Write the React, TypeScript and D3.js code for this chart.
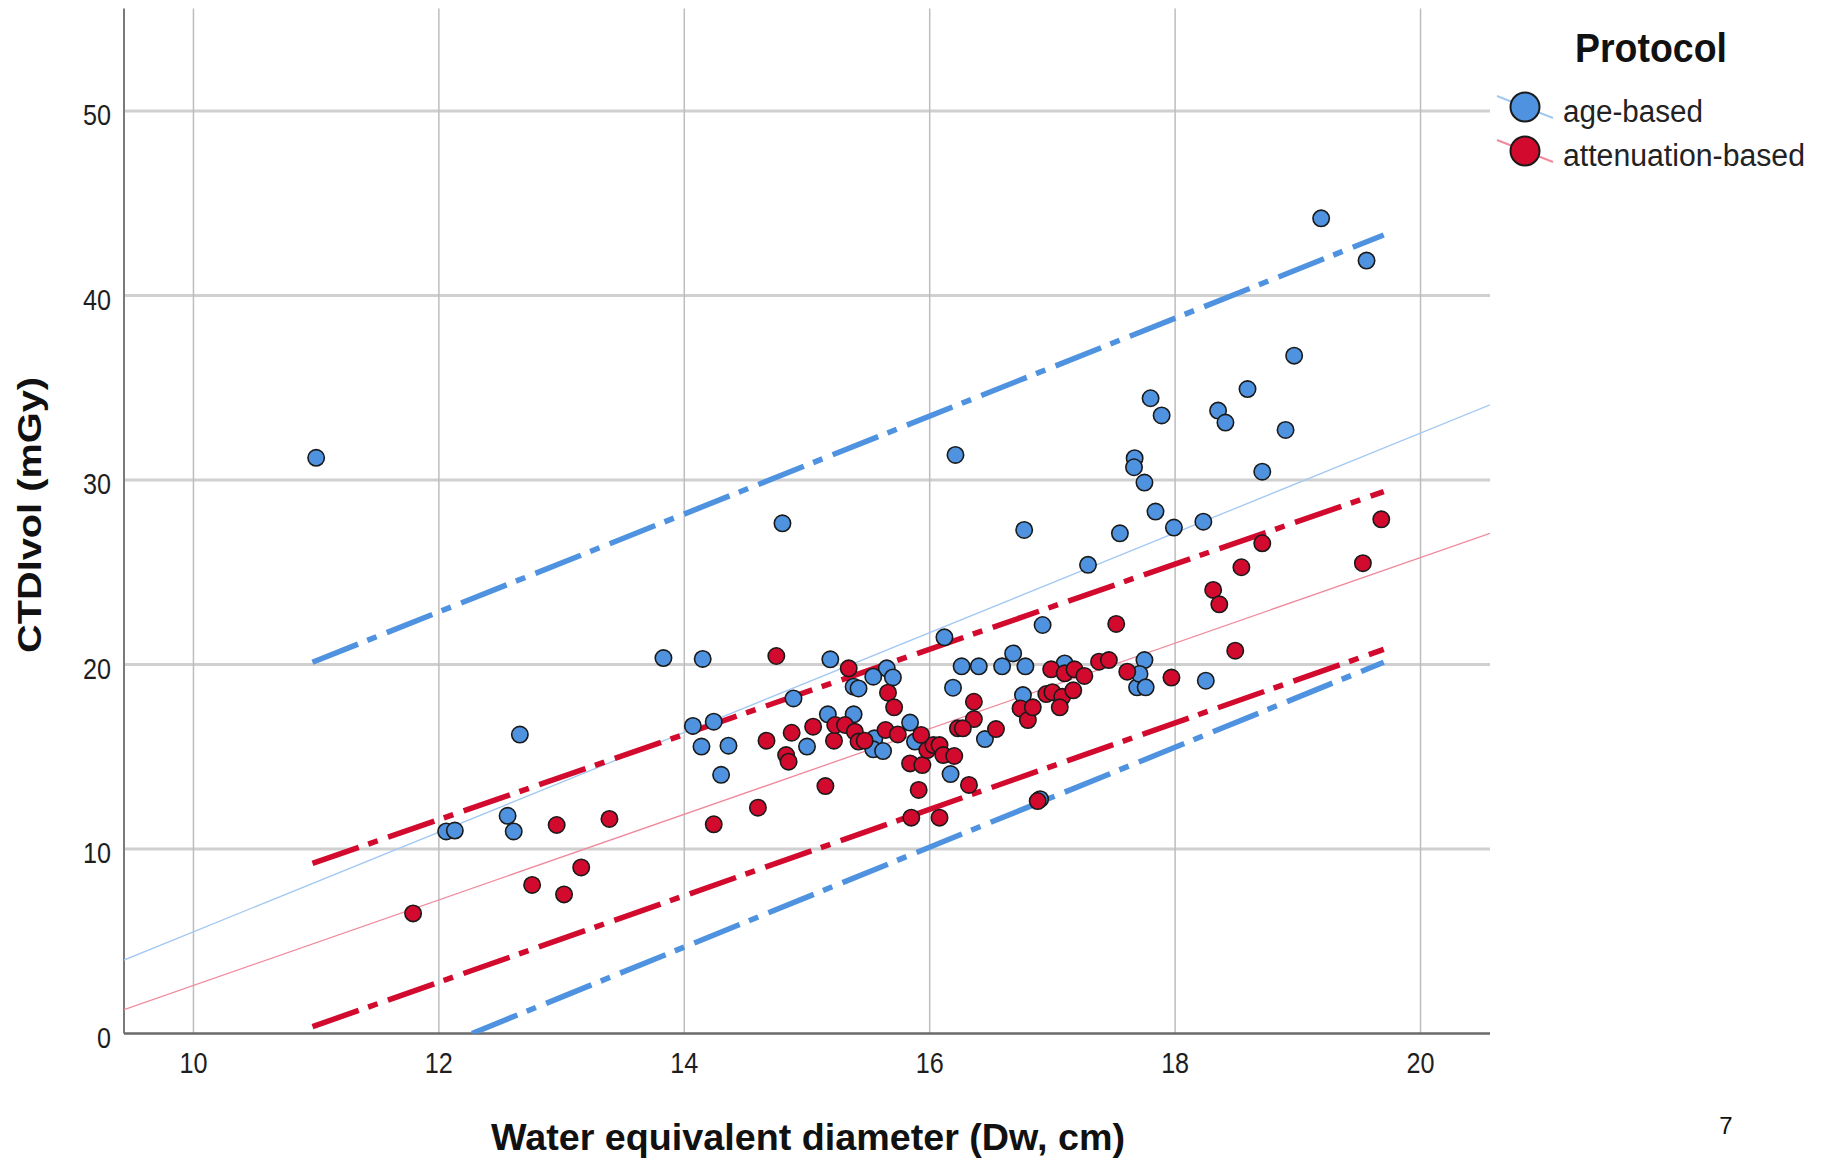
import { useEffect, useRef } from "react";
import * as d3 from "d3";

// Water equivalent diameter (cm) vs CTDIvol (mGy)
const ageBased: [number, number][] = [
  [11.0, 31.2], [12.06, 10.95], [12.13, 11.0], [12.56, 11.8], [12.61, 10.95],
  [12.66, 16.2], [13.83, 20.35], [14.15, 20.3], [14.07, 16.67], [14.24, 16.9],
  [14.14, 15.55], [14.36, 15.6], [14.3, 14.02], [14.8, 27.65], [15.19, 20.28],
  [16.12, 21.47], [16.92, 22.14], [15.65, 19.79], [15.54, 19.34], [15.7, 19.3],
  [15.38, 18.8], [15.42, 18.7], [14.89, 18.16], [15.0, 15.55], [15.17, 17.3],
  [15.38, 17.3], [15.55, 16.0], [15.54, 15.4], [15.62, 15.31], [15.84, 16.85],
  [15.88, 15.82], [16.17, 14.06], [16.9, 12.7], [16.26, 19.9], [16.4, 19.9],
  [16.59, 19.9], [16.68, 20.6], [16.78, 19.9], [16.19, 18.74], [16.45, 15.96],
  [16.76, 18.34], [17.1, 20.06], [17.69, 18.76], [17.75, 20.24], [17.71, 19.49],
  [17.76, 18.76], [18.25, 19.12], [19.19, 44.18], [19.56, 41.89], [16.21, 31.36],
  [18.97, 36.74], [18.59, 34.93], [17.8, 34.43], [17.89, 33.5], [18.35, 33.76],
  [18.41, 33.11], [18.9, 32.71], [17.67, 31.18], [17.665, 30.69], [17.75, 29.86],
  [18.71, 30.45], [17.84, 28.29], [16.77, 27.29], [17.55, 27.11], [17.99, 27.42],
  [18.23, 27.74], [17.29, 25.4],
];

const attenuationBased: [number, number][] = [
  [11.79, 6.51], [12.76, 8.05], [12.96, 11.3], [13.02, 7.54], [13.16, 9.0],
  [13.39, 11.63], [14.75, 20.46], [14.67, 15.87], [14.6, 12.24], [14.24, 11.34],
  [15.34, 19.79], [15.66, 18.47], [15.71, 17.68], [14.875, 16.3], [14.83, 15.09],
  [14.85, 14.73], [15.05, 16.63], [15.22, 15.87], [15.23, 16.72], [15.31, 16.72],
  [15.39, 16.36], [15.42, 15.82], [15.47, 15.87], [15.64, 16.45], [15.74, 16.21],
  [15.93, 16.18], [15.84, 14.64], [15.94, 14.55], [15.98, 15.36], [16.03, 15.63],
  [16.08, 15.63], [16.11, 15.09], [16.2, 15.04], [15.91, 13.2], [16.32, 13.47],
  [15.15, 13.41], [15.85, 11.7], [16.08, 11.7], [16.88, 12.6], [16.36, 17.98],
  [16.36, 17.04], [16.23, 16.54], [16.27, 16.54], [16.54, 16.5], [16.74, 17.62],
  [16.8, 16.99], [16.84, 17.68], [16.95, 18.4], [17.0, 18.5], [17.08, 18.25],
  [17.06, 17.68], [17.17, 18.6], [16.99, 19.74], [17.1, 19.52], [17.18, 19.74],
  [17.26, 19.38], [17.38, 20.15], [17.46, 20.24], [17.61, 19.61], [17.52, 22.2],
  [17.97, 19.29], [18.49, 20.75], [18.71, 26.57], [18.54, 25.27], [18.31, 24.04],
  [18.36, 23.26], [19.68, 27.87], [19.53, 25.49],
];

// regression fits and prediction interval bounds (end points, data units)
const ageFit: [number, number][] = [[9.434, 3.98], [20.566, 34.07]];
const attFit: [number, number][] = [[9.434, 1.29], [20.566, 27.11]];
const ageUpper: [number, number][] = [[10.97, 20.12], [19.7, 43.28]];
const ageLower: [number, number][] = [[12.27, 0], [19.7, 20.12]];
const attUpper: [number, number][] = [[10.97, 9.22], [19.7, 29.37]];
const attLower: [number, number][] = [[10.97, 0.37], [19.7, 20.82]];

const xDomain = [9.434, 20.566];
const yDomain = [0, 55.5];
const xTicks = [10, 12, 14, 16, 18, 20];
const yTicks = [0, 10, 20, 30, 40, 50];

const protocols = ["age-based", "attenuation-based"];
const colors = ["#4f93e0", "#d20a2e"];
const fitColors = ["#a3c8f2", "#f0899c"];

const FONT = "'Liberation Sans', Arial, sans-serif";

const App = () => {
  const svgRef = useRef<SVGSVGElement>(null);

  useEffect(() => {
    const width = 1823;
    const height = 1164;
    const plot = { left: 124, right: 1490, top: 9.5, bottom: 1033.5 };

    const svg = d3.select(svgRef.current);
    svg.selectAll("*").remove();
    svg.attr("width", width).attr("height", height);

    const x = d3.scaleLinear().domain(xDomain).range([plot.left, plot.right]);
    const y = d3.scaleLinear().domain(yDomain).range([plot.bottom, plot.top]);

    svg
      .append("defs")
      .append("clipPath")
      .attr("id", "plotClip")
      .append("rect")
      .attr("x", plot.left)
      .attr("y", plot.top)
      .attr("width", plot.right - plot.left)
      .attr("height", plot.bottom - plot.top);

    // grid
    svg
      .append("g")
      .selectAll("line")
      .data(yTicks.filter((v) => v > 0))
      .join("line")
      .attr("x1", plot.left)
      .attr("x2", plot.right)
      .attr("y1", (d) => y(d))
      .attr("y2", (d) => y(d))
      .attr("stroke", "#d0d0d0")
      .attr("stroke-width", 2.8);

    svg
      .append("g")
      .selectAll("line")
      .data(xTicks)
      .join("line")
      .attr("x1", (d) => x(d))
      .attr("x2", (d) => x(d))
      .attr("y1", plot.top - 1)
      .attr("y2", plot.bottom)
      .attr("stroke", "#bdbdbd")
      .attr("stroke-width", 1.5);

    // axis lines
    svg
      .append("line")
      .attr("x1", plot.left)
      .attr("x2", plot.left)
      .attr("y1", plot.top - 1)
      .attr("y2", plot.bottom)
      .attr("stroke", "#7a7a7a")
      .attr("stroke-width", 2);
    svg
      .append("line")
      .attr("x1", plot.left)
      .attr("x2", plot.right)
      .attr("y1", plot.bottom)
      .attr("y2", plot.bottom)
      .attr("stroke", "#6a6a6a")
      .attr("stroke-width", 2.5);

    // tick labels
    svg
      .append("g")
      .selectAll("text")
      .data(yTicks)
      .join("text")
      .attr("x", 111)
      .attr("y", (d) => y(d) + 14.5)
      .attr("text-anchor", "end")
      .attr("font-family", FONT)
      .attr("font-size", 29)
      .attr("fill", "#1e1e1e")
      .attr("textLength", (d) => (String(d).length > 1 ? 28 : 14))
      .attr("lengthAdjust", "spacingAndGlyphs")
      .text((d) => d);

    svg
      .append("g")
      .selectAll("text")
      .data(xTicks)
      .join("text")
      .attr("x", (d) => x(d))
      .attr("y", 1073)
      .attr("text-anchor", "middle")
      .attr("font-family", FONT)
      .attr("font-size", 29)
      .attr("fill", "#1e1e1e")
      .attr("textLength", 28)
      .attr("lengthAdjust", "spacingAndGlyphs")
      .text((d) => d);

    // axis titles
    svg
      .append("text")
      .attr("x", 808)
      .attr("y", 1150)
      .attr("text-anchor", "middle")
      .attr("font-family", FONT)
      .attr("font-weight", "bold")
      .attr("font-size", 37)
      .attr("fill", "#111")
      .attr("textLength", 634)
      .attr("lengthAdjust", "spacingAndGlyphs")
      .text("Water equivalent diameter (Dw, cm)");

    svg
      .append("text")
      .attr("transform", "translate(41,515) scale(0.88,1) rotate(-90)")
      .attr("text-anchor", "middle")
      .attr("font-family", FONT)
      .attr("font-weight", "bold")
      .attr("font-size", 38)
      .attr("fill", "#111")
      .attr("textLength", 276)
      .attr("lengthAdjust", "spacingAndGlyphs")
      .text("CTDIvol (mGy)");

    // lines
    const line = d3
      .line<[number, number]>()
      .x((d) => x(d[0]))
      .y((d) => y(d[1]));

    const lines = svg.append("g").attr("clip-path", "url(#plotClip)");
    [ageFit, attFit].forEach((pts, i) => {
      lines
        .append("path")
        .attr("d", line(pts))
        .attr("fill", "none")
        .attr("stroke", fitColors[i])
        .attr("stroke-width", 1.3);
    });
    [
      [ageUpper, 0],
      [ageLower, 0],
      [attUpper, 1],
      [attLower, 1],
    ].forEach(([pts, i]) => {
      lines
        .append("path")
        .attr("d", line(pts as [number, number][]))
        .attr("fill", "none")
        .attr("stroke", colors[i as number])
        .attr("stroke-width", 5.5)
        .attr("stroke-dasharray", "49 10 10 11");
    });

    // points
    [ageBased, attenuationBased].forEach((pts, i) => {
      svg
        .append("g")
        .selectAll("circle")
        .data(pts)
        .join("circle")
        .attr("cx", (d) => x(d[0]))
        .attr("cy", (d) => y(d[1]))
        .attr("r", 8.2)
        .attr("fill", colors[i])
        .attr("stroke", "#1a1a1a")
        .attr("stroke-width", 1.6);
    });

    // legend
    const legend = svg.append("g");
    legend
      .append("text")
      .attr("x", 1651)
      .attr("y", 61.5)
      .attr("text-anchor", "middle")
      .attr("font-family", FONT)
      .attr("font-weight", "bold")
      .attr("font-size", 40)
      .attr("fill", "#111")
      .attr("textLength", 152)
      .attr("lengthAdjust", "spacingAndGlyphs")
      .text("Protocol");

    const itemY = [107, 151];
    const labelLen = [140, 242];
    protocols.forEach((p, i) => {
      const g = legend.append("g").attr("transform", `translate(1525,${itemY[i]})`);
      g.append("line")
        .attr("x1", -28)
        .attr("y1", -11)
        .attr("x2", 28)
        .attr("y2", 11)
        .attr("stroke", fitColors[i])
        .attr("stroke-width", 2);
      g.append("circle")
        .attr("r", 14.5)
        .attr("fill", colors[i])
        .attr("stroke", "#1a1a1a")
        .attr("stroke-width", 2);
      g.append("text")
        .attr("x", 38)
        .attr("y", 15)
        .attr("font-family", FONT)
        .attr("font-size", 31)
        .attr("fill", "#222")
        .attr("textLength", labelLen[i])
        .attr("lengthAdjust", "spacingAndGlyphs")
        .text(p);
    });

    // page number
    svg
      .append("text")
      .attr("x", 1726)
      .attr("y", 1134)
      .attr("text-anchor", "middle")
      .attr("font-family", FONT)
      .attr("font-size", 24)
      .attr("fill", "#111")
      .text("7");
  }, []);

  return (
    <div style={{ position: "absolute", left: 0, top: 0, background: "#fff" }}>
      <svg ref={svgRef} />
    </div>
  );
};

export default App;
